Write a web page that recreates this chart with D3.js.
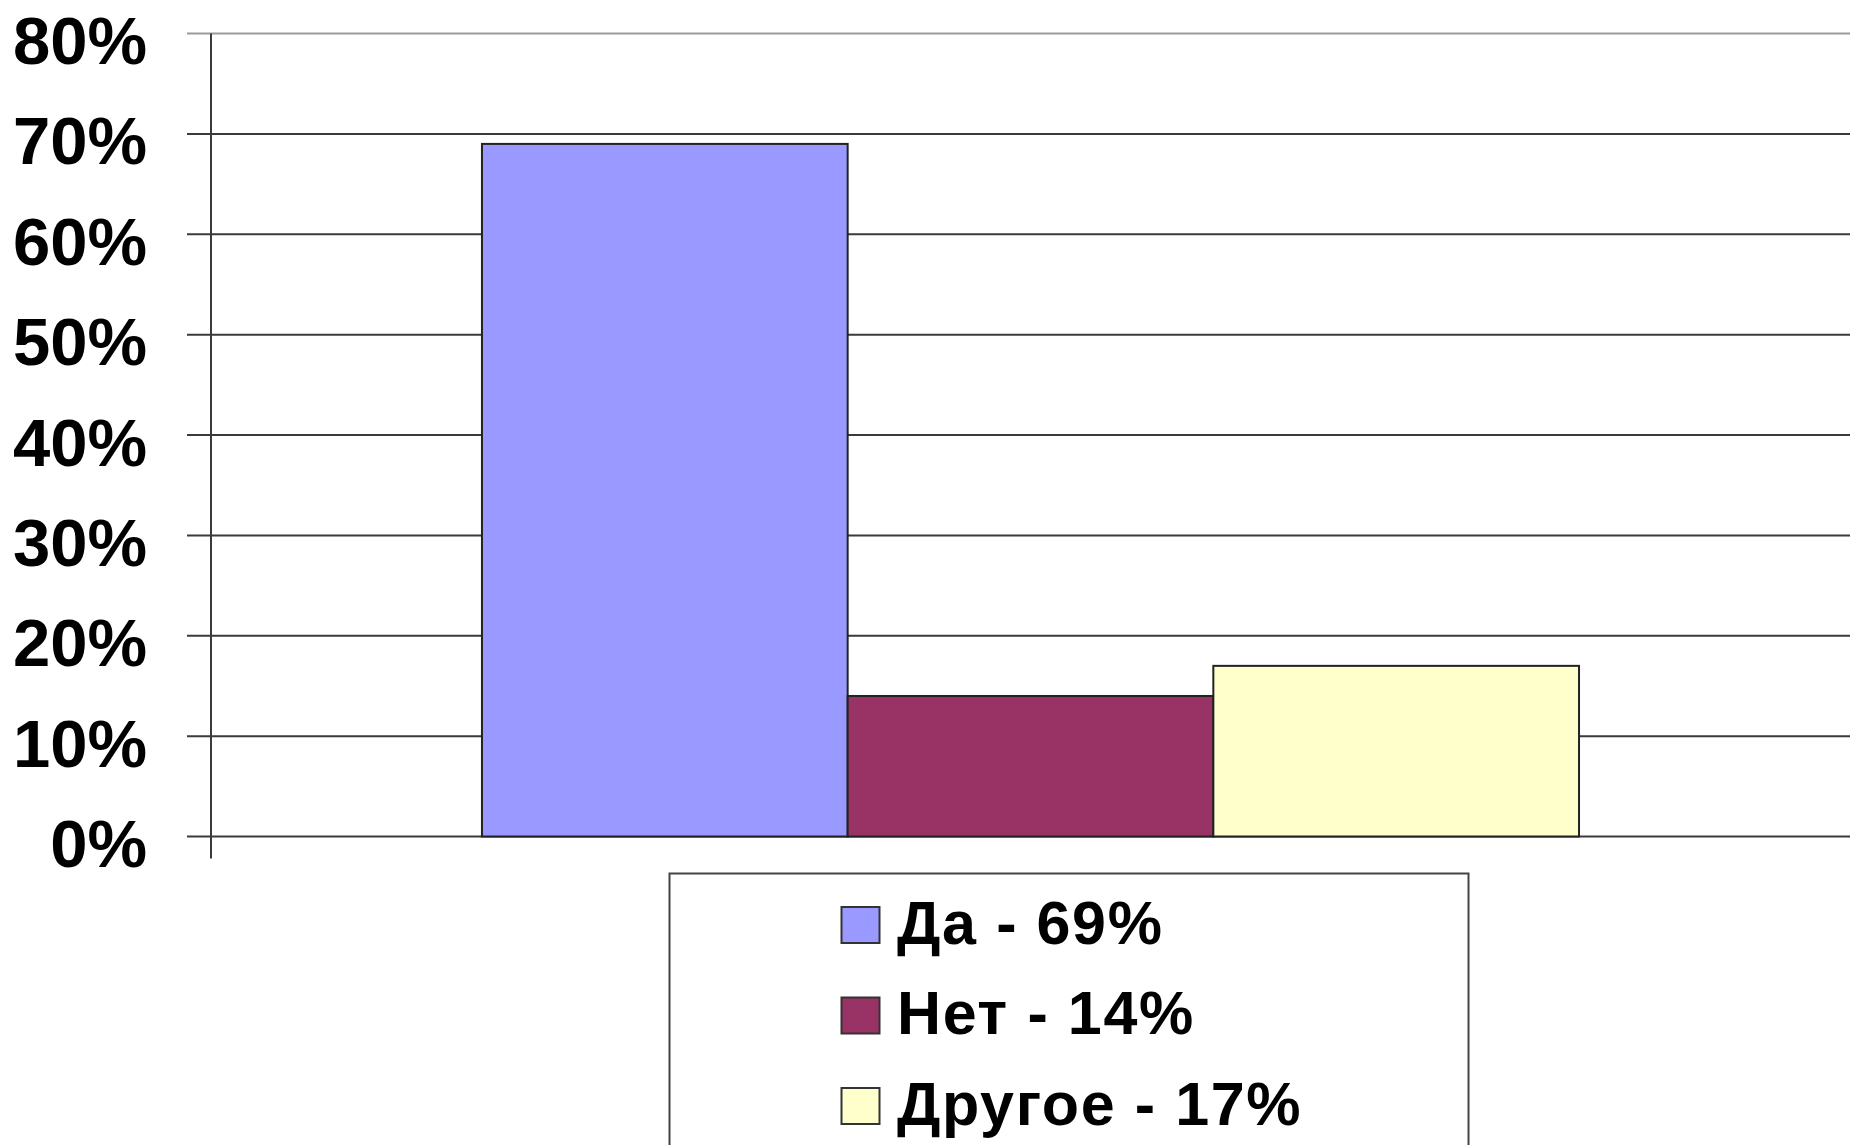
<!DOCTYPE html>
<html>
<head>
<meta charset="utf-8">
<script src="https://cdn.jsdelivr.net/npm/d3@7"></script>
<style>
  html, body { margin: 0; padding: 0; background: #fff; }
  svg { display: block; }
</style>
</head>
<body>
<svg id="chart" width="1850" height="1145"></svg>
<script>
// ---- data ----
const categories = ["Опрос"];
const seriesNames = ["Да - 69%", "Нет - 14%", "Другое - 17%"];
const seriesValues = [0.69, 0.14, 0.17];
const seriesColors = ["#9999FF", "#993366", "#FFFFCC"];
const yTicks = [0, 0.1, 0.2, 0.3, 0.4, 0.5, 0.6, 0.7, 0.8];
const yTickLabels = ["0%", "10%", "20%", "30%", "40%", "50%", "60%", "70%", "80%"];

const svg = d3.select("#chart");
const axisX = 211, plotRight = 1850, yTop = 33.5, yBottom = 836.5;

const y = d3.scaleLinear().domain([0, 0.8]).range([yBottom, yTop]);
const x0 = d3.scaleBand().domain(categories).range([axisX, plotRight]).paddingInner(0).paddingOuter(0.247);
const x1 = d3.scaleBand().domain(seriesNames).range([0, x0.bandwidth()]).padding(0);

const font = "'Liberation Sans', Arial, sans-serif";

// gridlines + ticks
svg.append("g").selectAll("line").data(yTicks).join("line")
  .attr("x1", 187).attr("x2", plotRight)
  .attr("y1", d => y(d)).attr("y2", d => y(d))
  .attr("stroke", (d, i) => i === yTicks.length - 1 ? "#9a9a9a" : "#3a3a3a")
  .attr("stroke-width", 2);

// y axis line
svg.append("line")
  .attr("x1", axisX).attr("x2", axisX)
  .attr("y1", yTop).attr("y2", yBottom + 22)
  .attr("stroke", "#3a3a3a").attr("stroke-width", 2);

// tick labels
svg.append("g").selectAll("text").data(yTicks).join("text")
  .attr("x", 147).attr("y", d => y(d) + 30.5)
  .attr("text-anchor", "end")
  .attr("font-family", font).attr("font-weight", "bold")
  .attr("font-size", 67).attr("fill", "#000")
  .text((d, i) => yTickLabels[i]);

// bars
const g = svg.append("g").selectAll("g").data(categories).join("g")
  .attr("transform", d => `translate(${x0(d)},0)`);
g.selectAll("rect").data(seriesNames.map((s, i) => ({ s, v: seriesValues[i], c: seriesColors[i] })))
  .join("rect")
  .attr("x", d => x1(d.s)).attr("width", x1.bandwidth())
  .attr("y", d => y(d.v)).attr("height", d => y(0) - y(d.v))
  .attr("fill", d => d.c)
  .attr("stroke", "#222").attr("stroke-width", 2);

// legend
const lg = svg.append("g");
lg.append("rect")
  .attr("x", 669.5).attr("y", 873.5).attr("width", 799).attr("height", 300)
  .attr("fill", "#fff").attr("stroke", "#444").attr("stroke-width", 2);
const rows = lg.selectAll("g.row").data(seriesNames).join("g").attr("class", "row")
  .attr("transform", (d, i) => `translate(0, ${i * 90.5})`);
rows.append("rect")
  .attr("x", 841.5).attr("y", 907).attr("width", 38).attr("height", 36)
  .attr("fill", (d, i) => seriesColors[i])
  .attr("stroke", "#333").attr("stroke-width", 2);
rows.append("text")
  .attr("x", 897).attr("y", 943.5)
  .attr("font-family", font).attr("font-weight", "bold")
  .attr("font-size", 61).attr("letter-spacing", 1.6).attr("fill", "#000")
  .text(d => d);
</script>
</body>
</html>
